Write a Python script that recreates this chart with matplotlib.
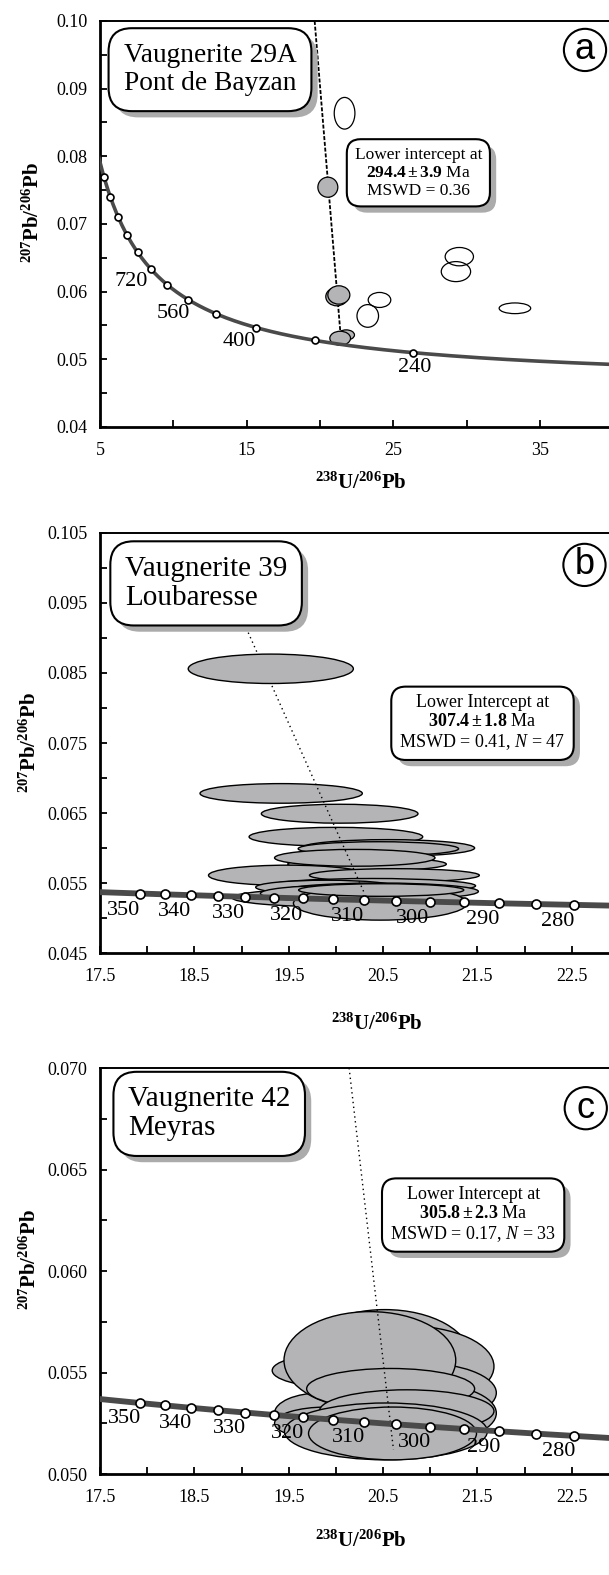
import numpy as np
import matplotlib.pyplot as plt
from matplotlib.patches import Ellipse
import matplotlib.patheffects as pe

plt.rcParams['font.family'] = 'Liberation Serif'
plt.rcParams['mathtext.fontset'] = 'custom'
plt.rcParams['mathtext.rm'] = 'Liberation Serif'
plt.rcParams['mathtext.bf'] = 'Liberation Serif:bold'
plt.rcParams['mathtext.it'] = 'Liberation Serif:italic'

# constantes de decaimiento (concordia Tera-Wasserburg)
L238 = 1.55125e-10
L235 = 9.8485e-10
U85 = 137.88

# ---------------- datos panel a ----------------
edades_a = [240, 320, 400, 480, 560, 640, 720, 800, 880, 960, 1040, 1120]
etiq_a = [240, 400, 560, 720]
desp_a = {240: (1, -11), 400: (-12, -10), 560: (-11, -10), 720: (-14, -9)}
disc_a_x = [19.63, 21.42]
disc_a_y = [0.100, 0.0530]
# elipses llenas (x, y, ancho, alto)
llenas_a_x = [21.78, 20.53, 21.14, 21.28, 21.37]
llenas_a_y = [0.0536, 0.07543, 0.05926, 0.05951, 0.05311]
llenas_a_w = [1.13, 1.36, 1.50, 1.50, 1.41]
llenas_a_h = [0.0015, 0.00296, 0.00271, 0.00271, 0.00207]
# elipses vacias
vacias_a_x = [21.67, 29.49, 29.26, 24.05, 23.25, 33.28]
vacias_a_y = [0.08636, 0.06517, 0.06296, 0.05877, 0.05641, 0.05754]
vacias_a_w = [1.41, 1.93, 2.00, 1.54, 1.47, 2.15]
vacias_a_h = [0.00468, 0.00271, 0.00296, 0.00222, 0.00335, 0.00158]

# ---------------- datos panel b ----------------
edades_bc = [280, 285, 290, 295, 300, 305, 310, 315, 320, 325, 330, 335, 340, 345, 350]
etiq_bc = [280, 290, 300, 310, 320, 330, 340, 350]
disc_b_x = [19.05, 20.30]
disc_b_y = [0.0914, 0.0536]
elip_b_x = [19.42, 20.04, 20.00, 20.55, 20.45, 20.33, 20.20, 19.49, 20.62, 20.38, 19.90,
            20.00, 20.46, 20.00, 20.47, 20.48, 19.31]
elip_b_y = [0.0678, 0.0649, 0.0616, 0.0600, 0.0599, 0.0577, 0.0586, 0.0561, 0.0561, 0.0546, 0.0544,
            0.0529, 0.0538, 0.0535, 0.0521, 0.0540, 0.0856]
elip_b_w = [1.72, 1.66, 1.84, 1.84, 1.70, 1.68, 1.70, 1.68, 1.80, 2.20, 1.50,
            2.20, 2.10, 1.60, 1.84, 1.75, 1.75]
elip_b_h = [0.0028, 0.0027, 0.0027, 0.0024, 0.0020, 0.0019, 0.0024, 0.0029, 0.0019, 0.0021, 0.0020,
            0.0026, 0.0024, 0.0023, 0.0048, 0.0018, 0.0042]

# ---------------- datos panel c ----------------
disc_c_x = [20.14, 20.61]
disc_c_y = [0.070, 0.0512]
elip_c_x = [20.52, 20.75, 20.85, 20.90, 19.95, 19.85, 19.90, 20.36, 20.58, 20.75, 20.53, 20.60]
elip_c_y = [0.0557, 0.0553, 0.0540, 0.0530, 0.0551, 0.0530, 0.0525, 0.0556, 0.0542, 0.0531, 0.0521, 0.0520]
elip_c_w = [1.82, 1.85, 1.70, 1.60, 1.25, 1.00, 1.10, 1.82, 1.78, 1.85, 2.15, 1.78]
elip_c_h = [0.0048, 0.0040, 0.0030, 0.0030, 0.0016, 0.0020, 0.0016, 0.0048, 0.0020, 0.0021, 0.0028, 0.0026]


def tw(edad):
    t = np.asarray(edad, dtype=float) * 1e6
    e8 = np.exp(L238 * t) - 1
    e5 = np.exp(L235 * t) - 1
    return 1 / e8, e5 / e8 / U85


GRIS = '#b4b4b6'


def ejes(ax, xlim, ylim, xmaj, xmin, ymaj, ymin, xfmt, yfmt, xl, yl):
    ax.set_xlim(xlim)
    ax.set_ylim(ylim)
    ax.set_xticks(xmaj)
    ax.set_xticks(xmin, minor=True)
    ax.set_yticks(ymaj)
    ax.set_yticks(ymin, minor=True)
    ax.set_xticklabels([xfmt % v for v in xmaj])
    ax.set_yticklabels([yfmt % v for v in ymaj])
    ax.tick_params(which='both', direction='in', length=5, width=1.3, labelsize=13, pad=9)
    ax.tick_params(axis='x', pad=11)
    for s in ['left', 'bottom']:
        ax.spines[s].set_linewidth(2.0)
    ax.spines['top'].set_linewidth(1.4)
    ax.spines['right'].set_linewidth(1.4)
    ax.set_xlabel(r'$\mathbf{{}^{238}U/{}^{206}Pb}$', fontsize=15)
    ax.set_ylabel(r'$\mathbf{{}^{207}Pb/{}^{206}Pb}$', fontsize=15)
    ax.xaxis.set_label_coords(*xl)
    ax.yaxis.set_label_coords(*yl)


def caja(ax, x, y, s, fs, ha, pad, rs):
    t = ax.text(x, y, s, transform=ax.transAxes, fontsize=fs, ha=ha, va='center',
                multialignment=ha, linespacing=1.15, zorder=10,
                bbox=dict(boxstyle='round,pad=%s,rounding_size=%s' % (pad, rs),
                          fc='white', ec='black', lw=1.5))
    t.get_bbox_patch().set_path_effects(
        [pe.withSimplePatchShadow(offset=(4.5, -4.5), shadow_rgbFace='#ababab', alpha=1.0)])


def circulo(ax, x, y, letra):
    ax.text(x, y, letra, transform=ax.transAxes, fontsize=26, family='Liberation Sans',
            ha='center', va='center', zorder=10,
            bbox=dict(boxstyle='circle,pad=0.1', fc='white', ec='black', lw=1.5))


def concordia(ax, edades_linea, edades, etiq, desp, lw, ms):
    cx, cy = tw(edades_linea)
    ax.plot(cx, cy, color='#4a4a4a', lw=lw, zorder=5, solid_capstyle='butt')
    mx, my = tw(edades)
    ax.plot(mx, my, 'o', ms=ms, mfc='white', mec='black', mew=1.2, zorder=6)
    for e in etiq:
        px, py = tw(e)
        d = desp[e] if isinstance(desp, dict) else desp
        ax.annotate(str(e), xy=(px, py), xytext=d, textcoords='offset points',
                    ha='center', va='center', fontsize=16, zorder=7)


fig = plt.figure(figsize=(6.09, 15.75), dpi=100)

# ---------------- panel a ----------------
ax = fig.add_axes([0.1642, 0.7289, 0.8432, 0.2578])
ax.plot(disc_a_x, disc_a_y, color='black', lw=1.3, dashes=(2.2, 1.0), zorder=3)
for x, y, w, h in zip(llenas_a_x, llenas_a_y, llenas_a_w, llenas_a_h):
    ax.add_patch(Ellipse((x, y), w, h, fc=GRIS, ec='black', lw=0.9, zorder=4))
for x, y, w, h in zip(vacias_a_x, vacias_a_y, vacias_a_w, vacias_a_h):
    ax.add_patch(Ellipse((x, y), w, h, fc='none', ec='black', lw=0.9, zorder=4))
concordia(ax, np.linspace(150, 1300, 600), edades_a, etiq_a, desp_a, 2.6, 5.0)
ejes(ax, (5, 40), (0.04, 0.10), [5, 15, 25, 35], [10, 20, 30, 40],
     np.arange(0.04, 0.1001, 0.01), np.arange(0.045, 0.1, 0.01), '%d', '%.2f',
     (0.508, -0.112), (-0.110, 0.527))
caja(ax, 0.046, 0.880, 'Vaugnerite 29A\nPont de Bayzan', 19.7, 'left', 0.55, 0.85)
caja(ax, 0.620, 0.626, 'Lower intercept at\n' + r'$\mathbf{294.4 \pm 3.9}$ Ma' + '\nMSWD = 0.36',
     12.5, 'center', 0.45, 0.8)
circulo(ax, 0.9445, 0.9286, 'a')

# ---------------- panel b ----------------
ax = fig.add_axes([0.1642, 0.3949, 0.8522, 0.2667])
for i, (x, y, w, h) in enumerate(zip(elip_b_x, elip_b_y, elip_b_w, elip_b_h)):
    ax.add_patch(Ellipse((x, y), w, h, fc=GRIS, ec='black', lw=1.0,
                         zorder=4 if i < len(elip_b_x) - 1 else 4.6))
ax.plot(disc_b_x, disc_b_y, color='black', lw=1.0, ls=(0, (1, 2.5)), zorder=4.5)
concordia(ax, np.linspace(240, 400, 300), edades_bc, etiq_bc, (-12, -12), 4.2, 6.5)
ejes(ax, (17.5, 23.0), (0.045, 0.105), np.arange(17.5, 22.51, 1.0), np.arange(18.0, 23.01, 1.0),
     np.arange(0.045, 0.1051, 0.01), np.arange(0.05, 0.105, 0.01), '%.1f', '%.3f',
     (0.533, -0.143), (-0.114, 0.50))
caja(ax, 0.048, 0.880, 'Vaugnerite 39\nLoubaresse', 21, 'left', 0.5, 0.8)
caja(ax, 0.737, 0.548, 'Lower Intercept at\n' + r'$\mathbf{307.4 \pm 1.8}$ Ma' +
     '\nMSWD = 0.41, ' + r'$\mathit{N}$' + ' = 47', 13, 'center', 0.45, 0.8)
circulo(ax, 0.9335, 0.924, 'b')

# ---------------- panel c ----------------
ax = fig.add_axes([0.1642, 0.0641, 0.8522, 0.2578])
for x, y, w, h in zip(elip_c_x, elip_c_y, elip_c_w, elip_c_h):
    ax.add_patch(Ellipse((x, y), w, h, fc=GRIS, ec='black', lw=1.0, zorder=4))
ax.plot(disc_c_x, disc_c_y, color='black', lw=1.0, ls=(0, (1, 2.5)), zorder=4.5)
concordia(ax, np.linspace(240, 400, 300), edades_bc, etiq_bc, (-11, -11.5), 4.2, 6.5)
ejes(ax, (17.5, 23.0), (0.050, 0.070), np.arange(17.5, 22.51, 1.0), np.arange(18.0, 23.01, 1.0),
     np.arange(0.050, 0.0701, 0.005), np.arange(0.0525, 0.07, 0.005), '%.1f', '%.3f',
     (0.503, -0.140), (-0.114, 0.527))
caja(ax, 0.054, 0.887, 'Vaugnerite 42\nMeyras', 21, 'left', 0.5, 0.8)
caja(ax, 0.719, 0.639, 'Lower Intercept at\n' + r'$\mathbf{305.8 \pm 2.3}$ Ma' +
     '\nMSWD = 0.17, ' + r'$\mathit{N}$' + ' = 33', 13, 'center', 0.45, 0.8)
circulo(ax, 0.936, 0.901, 'c')

fig.savefig('out.png', dpi=100)
